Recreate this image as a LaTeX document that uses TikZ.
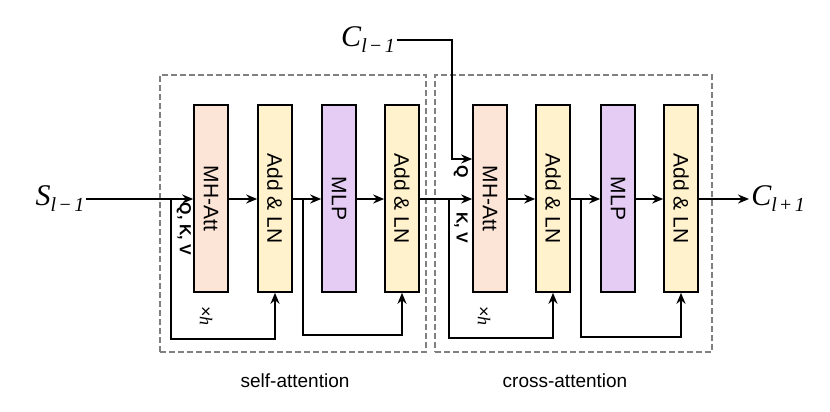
\documentclass[tikz,border=0pt]{standalone}
\usepackage{fontspec}
\setmainfont{Liberation Sans}
\newfontfamily\mserif{Liberation Serif}
\usetikzlibrary{arrows.meta}
\definecolor{att}{HTML}{FCE4D6}
\definecolor{add}{HTML}{FFF2CC}
\definecolor{mlp}{HTML}{E5CCF5}
\newcommand{\mylab}[2]{{\mserif\fontsize{30}{30}\selectfont\itshape #1\raisebox{-6pt}{\fontsize{20}{20}\selectfont #2}}}
\begin{document}
\begin{tikzpicture}[x=1pt,y=-1pt,
  blk/.style={draw,line width=1.6pt,minimum width=34pt,minimum height=187pt,inner sep=0pt},
  lbl/.style={rotate=-90,font=\fontsize{21}{21}\selectfont},
  ln/.style={line width=2.4pt},
  arr/.style={ln,-{Stealth[length=11pt,width=9pt]}},
  dbox/.style={draw=gray,line width=2pt,dash pattern=on 6pt off 3pt}]
\useasboundingbox (0,0) rectangle (830,412);
\node[dbox,minimum width=266pt,minimum height=277pt] (B1) at (293,213.5) {};
\node[dbox,minimum width=277pt,minimum height=277pt] (B2) at (573.5,213.5) {};
\node[blk,fill=att] (a1) at (211,198.5) {};
\node[lbl] at (a1) {MH-Att};
\node[blk,fill=add] (n1) at (275,198.5) {};
\node[lbl] at (n1) {Add \& LN};
\node[blk,fill=mlp] (m1) at (339,198.5) {};
\node[lbl] at (m1) {MLP};
\node[blk,fill=add] (o1) at (402,198.5) {};
\node[lbl] at (o1) {Add \& LN};
\node[blk,fill=att] (a2) at (490,198.5) {};
\node[lbl] at (a2) {MH-Att};
\node[blk,fill=add] (n2) at (553,198.5) {};
\node[lbl] at (n2) {Add \& LN};
\node[blk,fill=mlp] (m2) at (618,198.5) {};
\node[lbl] at (m2) {MLP};
\node[blk,fill=add] (o2) at (681,198.5) {};
\node[lbl] at (o2) {Add \& LN};
\node[inner sep=2pt] (S) at (60,199) {\mylab{S}{l\,\textup{−}\,1}};
\node[inner sep=2pt] (C) at (368,40) {\mylab{C}{l\,\textup{−}\,1}};
\node[inner sep=2pt] (Cp) at (778,199) {\mylab{C}{l\,\textup{+}\,1}};
\coordinate (j1) at (171,199);
\coordinate (j2) at (303,199);
\coordinate (j3) at (449,199);
\coordinate (j4) at (581,199);
\draw[arr] (S.east) -- (a1.west|-j1);
\draw[arr] (a1.east|-j1) -- (n1.west|-j1);
\draw[arr] (n1.east|-j1) -- (m1.west|-j1);
\draw[arr] (m1.east|-j1) -- (o1.west|-j1);
\draw[arr] (o1.east|-j1) -- (a2.west|-j1);
\draw[arr] (a2.east|-j1) -- (n2.west|-j1);
\draw[arr] (n2.east|-j1) -- (m2.west|-j1);
\draw[arr] (m2.east|-j1) -- (o2.west|-j1);
\draw[arr] (o2.east|-j1) -- (Cp.west);
\draw[arr] (C.east) -- (452,40) -- (452,159) -- (a2.west|-0,159);
\draw[arr] (j1) -- (171,339) -- (275,339) -- (n1.south);
\draw[arr] (j2) -- (303,335) -- (402,335) -- (o1.south);
\draw[arr] (j3) -- (449,338) -- (553,338) -- (n2.south);
\draw[arr] (j4) -- (581,337) -- (681,337) -- (o2.south);
\node[rotate=-90,font=\bfseries\fontsize{16}{16}\selectfont] at (184,229) {Q, K, V};
\node[rotate=-90,font=\bfseries\fontsize{16}{16}\selectfont] at (461,172) {Q};
\node[rotate=-90,font=\bfseries\fontsize{16}{16}\selectfont] at (461,228) {K, V};
\node[rotate=-90,font=\fontsize{18}{18}\selectfont] at (206,316) {×{\mserif\itshape h}};
\node[rotate=-90,font=\fontsize{18}{18}\selectfont] at (484,316) {×{\mserif\itshape h}};
\node[font=\fontsize{19}{19}\selectfont] at (295,381) {self-attention};
\node[font=\fontsize{19}{19}\selectfont] at (565,381) {cross-attention};
\end{tikzpicture}
\end{document}
